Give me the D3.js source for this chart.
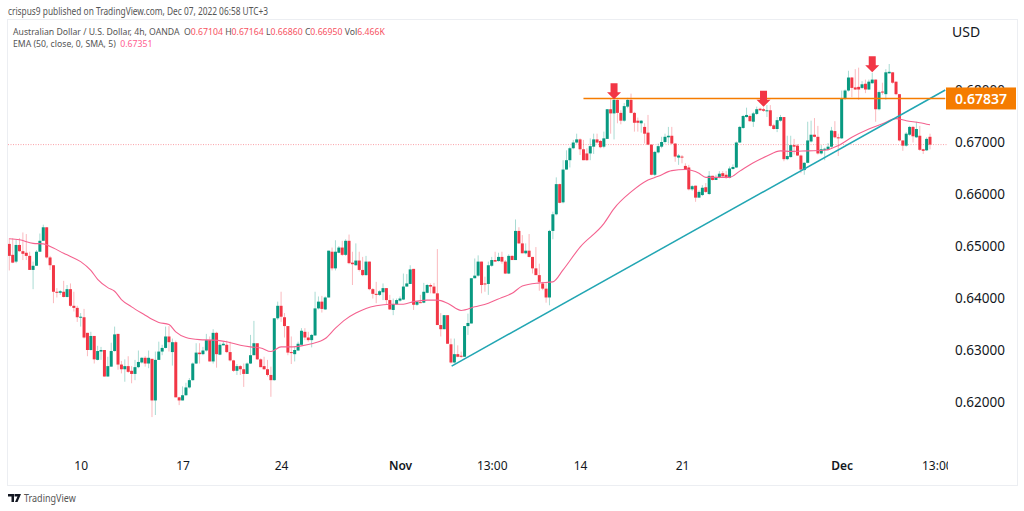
<!DOCTYPE html>
<html>
<head>
<meta charset="utf-8">
<script src="https://cdn.jsdelivr.net/npm/d3@7"></script>
<style>
  html, body { margin: 0; padding: 0; background: #fff; }
  text { font-family: "Noto Sans", sans-serif; }
</style>
</head>
<body>
<div id="chart"></div>
<script>
// AUD/USD 4h candles
const opens = [
  .6504,.6483,.6470,.6502,.6490,.6487,.6481,.6454,.6462,.6489,.6510,.6536,.6478,.6463,.6412,.6410,.6412,.6402,.6417,.6385,
  .6381,.6363,.6363,.6333,.6300,.6327,.6281,.6297,.6300,.6249,.6268,.6298,.6331,.6272,.6263,.6269,.6260,.6254,.6267,.6276,
  .6285,.6274,.6283,.6203,.6281,.6297,.6304,.6326,.6296,.6315,.6209,.6203,.6213,.6228,.6242,.6274,.6295,.6292,.6299,.6319,
  .6278,.6333,.6291,.6309,.6310,.6296,.6280,.6260,.6269,.6263,.6254,.6274,.6290,.6313,.6282,.6269,.6263,.6252,.6242,.6361,
  .6385,.6363,.6346,.6296,.6292,.6299,.6310,.6335,.6324,.6319,.6328,.6380,.6393,.6378,.6401,.6489,.6457,.6487,.6497,.6483,
  .6510,.6468,.6463,.6472,.6454,.6444,.6470,.6417,.6408,.6406,.6411,.6419,.6396,.6377,.6388,.6395,.6397,.6422,.6427,.6456,
  .6387,.6392,.6391,.6410,.6425,.6422,.6409,.6348,.6340,.6367,.6311,.6276,.6292,.6289,.6287,.6346,.6351,.6438,.6443,.6470,
  .6428,.6427,.6462,.6473,.6471,.6479,.6470,.6447,.6481,.6473,.6529,.6505,.6486,.6491,.6479,.6457,.6444,.6428,.6418,.6401,
  .6529,.6561,.6619,.6584,.6647,.6665,.6688,.6699,.6705,.6686,.6678,.6678,.6691,.6705,.6702,.6691,.6706,.6763,.6755,.6781,
  .6756,.6741,.6768,.6781,.6756,.6741,.6736,.6729,.6718,.6695,.6637,.6680,.6691,.6700,.6709,.6712,.6697,.6670,.6672,.6654,
  .6651,.6609,.6616,.6593,.6598,.6613,.6600,.6635,.6627,.6631,.6640,.6637,.6631,.6648,.6651,.6699,.6727,.6748,.6750,.6739,
  .6754,.6764,.6763,.6759,.6761,.6732,.6725,.6741,.6748,.6667,.6671,.6694,.6693,.6674,.6646,.6660,.6701,.6714,.6710,.6678,
  .6685,.6685,.6691,.6721,.6709,.6707,.6783,.6799,.6824,.6805,.6806,.6804,.6812,.6801,.6813,.6820,.6763,.6797,.6792,.6832,
  .6834,.6816,.6792,.6703,.6693,.6714,.6729,.6709,.6712,.6686,.6684,.6710
]
const highs = [
  .6515,.6515,.6512,.6515,.6526,.6523,.6489,.6470,.6492,.6524,.6541,.6536,.6481,.6463,.6419,.6415,.6433,.6425,.6428,.6412,
  .6385,.6371,.6379,.6333,.6335,.6327,.6308,.6306,.6300,.6287,.6314,.6345,.6331,.6279,.6282,.6288,.6269,.6281,.6299,.6286,
  .6288,.6299,.6283,.6297,.6316,.6310,.6345,.6346,.6322,.6318,.6210,.6230,.6237,.6246,.6276,.6313,.6313,.6306,.6331,.6326,
  .6340,.6335,.6314,.6316,.6318,.6316,.6281,.6273,.6271,.6274,.6276,.6329,.6356,.6313,.6284,.6287,.6281,.6268,.6361,.6393,
  .6412,.6371,.6346,.6326,.6306,.6316,.6342,.6342,.6335,.6331,.6412,.6403,.6404,.6403,.6491,.6497,.6511,.6500,.6510,.6513,
  .6522,.6489,.6505,.6489,.6479,.6481,.6470,.6419,.6431,.6415,.6428,.6419,.6406,.6399,.6399,.6403,.6447,.6446,.6463,.6456,
  .6394,.6406,.6429,.6427,.6428,.6429,.6494,.6371,.6367,.6367,.6322,.6322,.6309,.6297,.6346,.6370,.6438,.6476,.6482,.6470,
  .6441,.6470,.6479,.6489,.6487,.6489,.6473,.6484,.6482,.6551,.6536,.6521,.6505,.6523,.6479,.6498,.6466,.6431,.6431,.6531,
  .6566,.6632,.6620,.6665,.6684,.6691,.6704,.6716,.6707,.6704,.6688,.6707,.6716,.6716,.6704,.6720,.6763,.6784,.6787,.6782,
  .6761,.6775,.6785,.6793,.6758,.6747,.6742,.6736,.6752,.6695,.6683,.6697,.6710,.6716,.6729,.6729,.6698,.6677,.6675,.6659,
  .6656,.6617,.6616,.6607,.6617,.6621,.6644,.6635,.6637,.6644,.6644,.6644,.6653,.6657,.6701,.6731,.6752,.6766,.6753,.6758,
  .6768,.6766,.6766,.6771,.6771,.6735,.6748,.6752,.6748,.6712,.6712,.6706,.6696,.6676,.6661,.6739,.6741,.6746,.6731,.6694,
  .6689,.6698,.6729,.6740,.6716,.6799,.6801,.6837,.6825,.6840,.6843,.6817,.6820,.6820,.6833,.6820,.6799,.6814,.6840,.6850,
  .6834,.6816,.6792,.6703,.6719,.6731,.6731,.6739,.6731,.6687,.6709,.6716
]
const lows = [
  .6453,.6467,.6467,.6489,.6473,.6473,.6454,.6417,.6462,.6489,.6510,.6476,.6454,.6390,.6401,.6406,.6401,.6401,.6383,.6374,
  .6354,.6345,.6322,.6288,.6299,.6274,.6280,.6281,.6249,.6249,.6268,.6297,.6262,.6255,.6239,.6256,.6236,.6242,.6265,.6274,
  .6268,.6265,.6171,.6175,.6281,.6290,.6303,.6297,.6270,.6209,.6194,.6203,.6212,.6226,.6241,.6273,.6274,.6290,.6297,.6278,
  .6274,.6266,.6290,.6309,.6294,.6278,.6258,.6252,.6252,.6229,.6254,.6273,.6290,.6281,.6267,.6262,.6249,.6210,.6241,.6358,
  .6354,.6324,.6290,.6273,.6278,.6299,.6309,.6319,.6316,.6305,.6327,.6378,.6372,.6377,.6401,.6453,.6453,.6486,.6481,.6481,
  .6465,.6425,.6462,.6451,.6442,.6443,.6415,.6399,.6390,.6404,.6396,.6387,.6377,.6367,.6387,.6393,.6396,.6422,.6427,.6377,
  .6385,.6390,.6390,.6409,.6409,.6408,.6348,.6326,.6340,.6312,.6274,.6274,.6286,.6285,.6287,.6329,.6351,.6438,.6441,.6409,
  .6412,.6406,.6460,.6470,.6470,.6466,.6446,.6446,.6473,.6473,.6504,.6486,.6484,.6478,.6447,.6444,.6414,.6415,.6391,.6386,
  .6513,.6559,.6582,.6582,.6647,.6651,.6686,.6697,.6675,.6665,.6664,.6665,.6677,.6697,.6688,.6688,.6706,.6716,.6705,.6736,
  .6734,.6739,.6765,.6755,.6720,.6720,.6718,.6697,.6694,.6636,.6634,.6678,.6688,.6697,.6697,.6696,.6662,.6656,.6659,.6646,
  .6607,.6606,.6585,.6593,.6596,.6602,.6598,.6626,.6627,.6630,.6632,.6629,.6630,.6647,.6650,.6698,.6725,.6747,.6739,.6729,
  .6752,.6760,.6758,.6748,.6729,.6724,.6719,.6739,.6663,.6665,.6670,.6676,.6673,.6640,.6637,.6659,.6699,.6709,.6676,.6676,
  .6665,.6683,.6689,.6707,.6673,.6706,.6781,.6797,.6786,.6800,.6781,.6802,.6794,.6800,.6812,.6739,.6761,.6791,.6781,.6832,
  .6812,.6790,.6701,.6683,.6691,.6712,.6699,.6708,.6683,.6677,.6683,.6686
]
const closes = [
  .6481,.6468,.6502,.6490,.6485,.6481,.6454,.6462,.6489,.6510,.6536,.6478,.6463,.6412,.6410,.6413,.6402,.6417,.6385,.6381,
  .6363,.6364,.6324,.6300,.6327,.6282,.6298,.6300,.6249,.6269,.6298,.6330,.6272,.6263,.6269,.6258,.6254,.6267,.6277,.6285,
  .6274,.6285,.6203,.6281,.6297,.6304,.6326,.6315,.6315,.6209,.6203,.6213,.6228,.6242,.6274,.6295,.6292,.6299,.6319,.6278,
  .6333,.6292,.6310,.6312,.6296,.6280,.6260,.6269,.6263,.6254,.6274,.6290,.6313,.6282,.6267,.6263,.6252,.6242,.6361,.6385,
  .6364,.6346,.6295,.6294,.6300,.6312,.6337,.6324,.6319,.6329,.6380,.6393,.6379,.6401,.6491,.6457,.6489,.6497,.6483,.6510,
  .6467,.6465,.6472,.6454,.6444,.6470,.6417,.6408,.6406,.6413,.6419,.6396,.6378,.6388,.6396,.6399,.6422,.6428,.6455,.6387,
  .6393,.6391,.6412,.6425,.6422,.6409,.6348,.6340,.6367,.6312,.6276,.6292,.6287,.6287,.6346,.6352,.6438,.6443,.6470,.6425,
  .6427,.6463,.6473,.6470,.6479,.6470,.6447,.6481,.6473,.6529,.6505,.6486,.6491,.6479,.6457,.6444,.6431,.6418,.6401,.6529,
  .6561,.6619,.6583,.6647,.6665,.6688,.6699,.6705,.6686,.6665,.6665,.6692,.6705,.6699,.6690,.6707,.6763,.6755,.6781,.6756,
  .6741,.6769,.6781,.6756,.6737,.6737,.6741,.6716,.6695,.6637,.6681,.6692,.6700,.6710,.6712,.6697,.6672,.6674,.6670,.6647,
  .6609,.6615,.6593,.6604,.6612,.6604,.6635,.6627,.6632,.6639,.6634,.6631,.6649,.6652,.6699,.6729,.6750,.6752,.6740,.6755,
  .6763,.6761,.6760,.6761,.6731,.6725,.6742,.6748,.6667,.6673,.6694,.6691,.6674,.6647,.6660,.6703,.6714,.6710,.6678,.6686,
  .6687,.6691,.6722,.6709,.6707,.6783,.6799,.6824,.6804,.6801,.6801,.6811,.6801,.6816,.6820,.6763,.6796,.6796,.6834,.6835,
  .6814,.6792,.6703,.6693,.6716,.6729,.6711,.6725,.6685,.6683,.6706,.6695
]

// EMA 50, sampled along the line: candle index and value
const emaIndex = [0,3,7,10,13,16,18,21,24,26,29,31,33,36,40,42,44,47,49,52,56,60,64,68,71,74,77,80,83,86,89,93,96,99,102,105,108,112,116,119,123,126,129,133,137,141,145,148,151,156,160,163,168,175,178,183,188,191,195,199,203,205,212,215,219,223,227,230,235,240,244,248,253,257,261,264,268,271]
const emaValue = [.6514,.6512,.6505,.6504,.6496,.6486,.6480,.6470,.6453,.6436,.6420,.6413,.6397,.6383,.6367,.6359,.6353,.6349,.6335,.6324,.6320,.6319,.6316,.6309,.6306,.6304,.6297,.6306,.6306,.6308,.6312,.6322,.6342,.6359,.6371,.6380,.6385,.6388,.6388,.6393,.6396,.6396,.6390,.6376,.6383,.6390,.6401,.6409,.6423,.6429,.6431,.6454,.6498,.6543,.6572,.6604,.6627,.6634,.6645,.6647,.6640,.6632,.6632,.6644,.6660,.6673,.6683,.6682,.6683,.6684,.6693,.6709,.6725,.6735,.6745,.6741,.6737,.6733]

// drawings made by the author
const trendIndex = [130.2, 275.5]
const trendPrice = [.6269, .6800]
const levelIndex = [169, 275.5]
const levelPrice = .67837
const arrowIndex = [178, 222, 254]
const arrowPrice = [.6782, .6768, .6834]

const lastPrice = .6695
const priceTicks = [.62, .63, .64, .65, .66, .67, .68]
const timeTicks = [21, 51, 80, 115, 142, 168, 198, 245, 273]
const timeLabels = ['10', '17', '24', 'Nov', '13:00', '14', '21', 'Dec', '13:00']
const boldLabels = ['Nov', 'Dec']

const legendLine1 = [['Australian Dollar / U.S. Dollar, 4h, OANDA  O', '#555'], ['0.67104', '#f7525f'], [' H', '#555'], ['0.67164', '#f7525f'], [' L', '#555'], ['0.66860', '#f7525f'], [' C', '#555'], ['0.66950', '#f7525f'], [' Vol', '#555'], ['6.466K', '#f7525f']]
const legendLine2 = [['EMA (50, close, 0, SMA, 5)  ', '#555'], ['0.67351', '#ff5d8f']]

const width = 1024
const height = 511
const red = '#f23645'
const green = '#089981'

let svg = d3.select('#chart').append('svg')
  .attr('width', width)
  .attr('height', height)
  .style('display', 'block')

svg.append('text')
  .attr('transform', 'translate(8,15) scale(0.81,1)')
  .attr('font-size', 10.3)
  .attr('fill', '#555')
  .text('crispus9 published on TradingView.com, Dec 07, 2022 06:58 UTC+3')

svg.append('rect')
  .attr('x', 7.5)
  .attr('y', 19.5)
  .attr('width', 1010)
  .attr('height', 466)
  .attr('fill', 'none')
  .attr('stroke', '#eceef2')

let x = d3.scaleLinear().domain([0, 271]).range([9.3, 930])
let y = d3.scaleLinear().domain([.62, .68]).range([402, 90])

svg.append('defs').append('clipPath')
  .attr('id', 'plot-clip')
  .append('rect')
  .attr('x', 8)
  .attr('y', 20)
  .attr('width', 940)
  .attr('height', 465)

let plot = svg.append('g').attr('clip-path', 'url(#plot-clip)')

// last price
plot.append('line')
  .attr('x1', 8)
  .attr('x2', 948)
  .attr('y1', y(lastPrice))
  .attr('y2', y(lastPrice))
  .attr('stroke', '#f7525f')
  .attr('stroke-opacity', 0.55)
  .attr('stroke-dasharray', '1 1.5')

// wicks
plot.append('g').selectAll('line')
  .data(opens)
  .enter().append('line')
  .attr('x1', (d, i) => x(i))
  .attr('x2', (d, i) => x(i))
  .attr('y1', (d, i) => y(highs[i]))
  .attr('y2', (d, i) => y(lows[i]))
  .attr('stroke', (d, i) => closes[i] >= d ? green : red)
  .attr('stroke-opacity', 0.35)
  .attr('stroke-width', 1)

// bodies
plot.append('g').selectAll('rect')
  .data(opens)
  .enter().append('rect')
  .attr('x', (d, i) => x(i) - 1.5)
  .attr('width', 3)
  .attr('y', (d, i) => y(Math.max(d, closes[i])))
  .attr('height', (d, i) => Math.max(1, Math.abs(y(d) - y(closes[i]))))
  .attr('fill', (d, i) => closes[i] >= d ? green : red)

// EMA
let emaLine = d3.line()
  .x(d => x(d))
  .y((d, i) => y(emaValue[i]))
  .curve(d3.curveMonotoneX)

plot.append('path')
  .attr('d', emaLine(emaIndex))
  .attr('fill', 'none')
  .attr('stroke', '#f4628f')
  .attr('stroke-width', 1.1)

// trend line
plot.append('line')
  .attr('x1', x(trendIndex[0]))
  .attr('y1', y(trendPrice[0]))
  .attr('x2', x(trendIndex[1]))
  .attr('y2', y(trendPrice[1]))
  .attr('stroke', '#22a6b3')
  .attr('stroke-width', 1.5)

// horizontal level
plot.append('line')
  .attr('x1', x(levelIndex[0]))
  .attr('x2', x(levelIndex[1]))
  .attr('y1', y(levelPrice))
  .attr('y2', y(levelPrice))
  .attr('stroke', '#f57c00')
  .attr('stroke-width', 1.5)

// arrows, tip sits on the price
plot.append('g').selectAll('path')
  .data(arrowIndex)
  .enter().append('path')
  .attr('transform', (d, i) => `translate(${x(d)},${y(arrowPrice[i])})`)
  .attr('d', 'M-3.5,-16V-7H-7L0,0L7,-7H3.5V-16Z')
  .attr('fill', red)

// price axis
let priceAxis = d3.axisRight(y)
  .tickValues(priceTicks)
  .tickFormat(d3.format('.5f'))
  .tickSize(0)
  .tickPadding(0)

let priceG = svg.append('g')
  .attr('transform', 'translate(955,0)')
  .call(priceAxis)
priceG.select('.domain').remove()
priceG.selectAll('text')
  .attr('font-size', 13.5)
  .attr('fill', '#131722')
  .style('font-family', '"Noto Sans", sans-serif')

svg.append('text')
  .attr('x', 952)
  .attr('y', 37)
  .attr('font-size', 14)
  .attr('fill', '#131722')
  .text('USD')

// time axis
let timeClip = svg.append('defs').append('clipPath').attr('id', 'time-clip')
timeClip.append('rect')
  .attr('x', 8)
  .attr('y', 450)
  .attr('width', 940)
  .attr('height', 34)

let timeAxis = d3.axisBottom(x)
  .tickValues(timeTicks)
  .tickFormat((d, i) => timeLabels[i])
  .tickSize(0)
  .tickPadding(0)

let timeG = svg.append('g')
  .attr('clip-path', 'url(#time-clip)')
  .append('g')
  .attr('transform', 'translate(0,461)')
  .call(timeAxis)
timeG.select('.domain').remove()
timeG.selectAll('text')
  .attr('font-size', 12)
  .attr('fill', '#131722')
  .attr('font-weight', (d, i) => boldLabels.includes(timeLabels[i]) ? 600 : 400)
  .style('font-family', '"Noto Sans", sans-serif')

// legend
function drawLegend(parts, ly) {
  let t = svg.append('text')
    .attr('transform', `translate(13,${ly}) scale(0.905,1)`)
    .attr('font-size', 9.6)
    .attr('xml:space', 'preserve')
    .style('white-space', 'pre')
  t.selectAll('tspan')
    .data(parts)
    .enter().append('tspan')
    .attr('fill', d => d[1])
    .text(d => d[0])
}
drawLegend(legendLine1, 35)
drawLegend(legendLine2, 47)

// level label
let labelG = svg.append('g')
  .attr('transform', `translate(946,${y(levelPrice)})`)
labelG.append('rect')
  .attr('x', 0)
  .attr('y', -11)
  .attr('width', 70)
  .attr('height', 22)
  .attr('fill', '#f57c00')
labelG.append('text')
  .attr('x', 35)
  .attr('y', 5.2)
  .attr('text-anchor', 'middle')
  .attr('font-size', 14)
  .attr('font-weight', 600)
  .attr('fill', '#fff')
  .text('0.67837')

// footer
let logo = svg.append('g').attr('transform', 'translate(8,494)')
logo.append('path')
  .attr('d', 'M0,0H6V8H3.5V2.5H0ZM6.5,0H13L9.5,8H7L9.5,2.5H6.5Z')
  .attr('fill', '#131722')
svg.append('text')
  .attr('transform', 'translate(24,502) scale(0.9,1)')
  .attr('font-size', 10)
  .attr('fill', '#555')
  .text('TradingView')
</script>
</body>
</html>
